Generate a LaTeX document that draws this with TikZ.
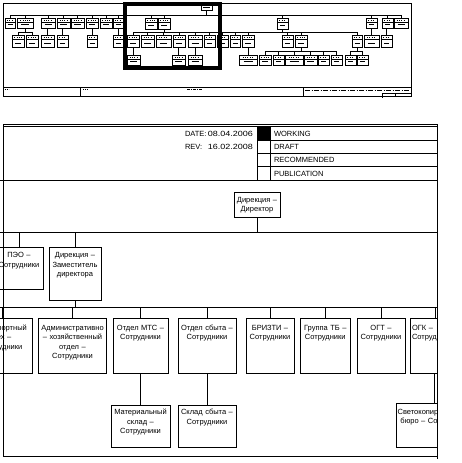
\documentclass[tikz,border=0pt]{standalone}
\usepackage{fontspec}
\setmainfont{Liberation Sans}
\usepackage{graphicx}
\newcommand\orgbox[7]{%
  \node[obox, minimum width=#4pt, minimum height=#5pt] (#1) at (#2,#3) {};
  \node[otxt] (#1t) at ([yshift=-#7pt]#1.north) {#6};
}
\newcommand\thumbbox[5]{%
  \node[tbox, minimum width=#4pt, minimum height=#5pt] (#1) at (#2,#3) {};
  \draw[line width=0.5pt] (#2,#3+0.38*#5) -- (#2+#4,#3+0.38*#5);
  \draw[line width=0.6pt, dash pattern=on 1pt off 1.3pt] (#2+0.2*#4,#3+0.19*#5) -- (#2+0.8*#4,#3+0.19*#5);
  \draw[line width=0.5pt] (#2+0.25*#4,#3+0.66*#5) -- (#2+0.75*#4,#3+0.66*#5);
}
\begin{document}
\begin{tikzpicture}[x=1pt,y=-1pt,
  every node/.style={inner sep=0pt, outer sep=0pt},
  ln/.style={line width=0.8pt},
  tln/.style={line width=0.7pt},
  obox/.style={draw, line width=0.8pt, anchor=north west},
  otxt/.style={font=\fontsize{7.5}{9.5}\selectfont, text width=110pt, align=center, anchor=base},
  htxt/.style={font=\fontsize{7.5}{9}\selectfont},
  tbox/.style={draw, line width=0.7pt, anchor=north west},
]
\useasboundingbox (0,0) rectangle (462,463);

% ================= THUMBNAIL =================
\draw[line width=0.9pt] (3,3) rectangle (411,96);
\draw[tln] (3,87) -- (411,87);
\draw[tln] (80,87) -- (80,96);
\draw[tln] (303,87) -- (303,96);
\draw[line width=0.6pt, dash pattern=on 1.2pt off 0.8pt] (4.5,89.5) -- (8.5,89.5);
\draw[line width=0.6pt, dash pattern=on 0.8pt off 1pt] (83,89.5) -- (87,89.5);
\draw[line width=0.6pt, dash pattern=on 3pt off 1pt on 1pt off 1pt] (187,89.5) -- (203,89.5);
\draw[line width=0.6pt, dash pattern=on 5pt off 1.5pt on 1pt off 1.5pt] (305,89.8) -- (410,89.8);
\draw[line width=0.6pt] (382,93) -- (411,93);
\draw[line width=0.6pt] (382,93) -- (382,97.5);
\draw[line width=0.6pt] (395,93) -- (395,96);

% director (thumb)
\node[tbox, minimum width=11pt, minimum height=5pt] (tdir) at (201,5) {};
\draw[line width=0.5pt] (203,7.5) -- (210,7.5);

% level 2 (thumb)
\thumbbox{qa}{5}{18}{10}{10}
\thumbbox{qb}{17}{18}{16}{10}
\thumbbox{qc}{41}{18}{14}{10}
\thumbbox{qd}{57}{18}{13}{10}
\thumbbox{qe}{71}{18}{13}{10}
\thumbbox{qf}{86}{18}{12}{10}
\thumbbox{qg}{100}{18}{12}{10}
\thumbbox{qh}{113}{18}{10}{10}
\thumbbox{qi}{145}{18}{12}{11}
\thumbbox{qj}{158}{18}{12}{11}
\thumbbox{qk}{277}{18}{11}{11}
\thumbbox{ql}{366}{18}{11}{10}
\thumbbox{qm}{382}{18}{11}{10}
\thumbbox{qn}{394}{18}{14}{10}

\coordinate (tb1l) at (10,15);
\coordinate (tb1r) at (401,15);
\draw[tln] (tb1l) -- (tb1r);
\draw[tln] (tdir.south) -- (tdir.south |- tb1l);
\foreach \n in {qa,qb,qc,qd,qe,qf,qg,qh,qi,qj,qk,ql,qm,qn}
  \draw[tln] (\n.north) -- (\n.north |- tb1l);

% level 3 (thumb), left group
\thumbbox{qba}{12}{35}{12}{12}
\thumbbox{qbb}{26}{35}{12}{12}
\coordinate (qsl) at (18,32);
\coordinate (qsr) at (32,32);
\draw[tln] (qsl) -- (qsr);
\draw[tln] (qb.south) -- (qb.south |- qsl);
\draw[tln] (qba.north) -- (qba.north |- qsl);
\draw[tln] (qbb.north) -- (qbb.north |- qsl);
\thumbbox{qca}{41}{35}{13}{12}
\thumbbox{qda}{57}{35}{11}{12}
\thumbbox{qfa}{87}{35}{10}{12}
\thumbbox{qha}{113}{35}{10}{12}
\draw[tln] (qca.north) -- (qca.north |- qc.south);
\draw[tln] (qda.north) -- (qda.north |- qd.south);
\draw[tln] (qfa.north) -- (qfa.north |- qf.south);
\draw[tln] (qha.north) -- (qha.north |- qh.south);

% level 3 (thumb), main bar
\thumbbox{u1}{127}{35}{12}{12}
\thumbbox{u2}{141}{35}{13}{12}
\thumbbox{u3}{156}{35}{15}{12}
\thumbbox{u4}{173}{35}{12}{12}
\thumbbox{u5}{188}{35}{14}{12}
\thumbbox{u6}{204}{35}{11}{12}
\thumbbox{u7}{217}{35}{11}{12}
\thumbbox{u8}{230}{35}{10}{12}
\thumbbox{u9}{242}{35}{12}{12}
\thumbbox{u10}{282}{35}{11}{12}
\thumbbox{u11}{295}{35}{12}{12}
\thumbbox{u12}{352}{35}{10}{12}
\thumbbox{u13}{364}{35}{15}{12}
\thumbbox{u14}{381}{35}{11}{12}
\coordinate (q2l) at (133,32);
\coordinate (q2r) at (357,32);
\draw[tln] (q2l) -- (q2r);
\draw[tln] (qj.south) -- (qj.south |- q2l);
\draw[tln] (qk.south) -- (qk.south |- q2l);
\foreach \n in {u1,u2,u3,u4,u5,u6,u7,u8,u9,u10,u11,u12}
  \draw[tln] (\n.north) -- (\n.north |- q2l);
\draw[tln] (u13.north) -- (u13.north |- ql.south);
\draw[tln] (u14.north) -- (u14.north |- qm.south);

% level 4 (thumb)
\thumbbox{v1}{127}{55}{13}{10}
\thumbbox{v2}{172}{55}{13}{10}
\thumbbox{v3}{188}{55}{14}{10}
\thumbbox{v4}{239}{55}{18}{10}
\draw[tln] (v1.north) -- (v1.north |- u1.south);
\draw[tln] (v2.north) -- (v2.north |- u4.south);
\draw[tln] (v3.north) -- (v3.north |- u5.south);
\draw[tln] (v4.north) -- (v4.north |- u9.south);
\thumbbox{w1}{259}{55}{12}{10}
\thumbbox{w2}{273}{55}{11}{10}
\thumbbox{w3}{285}{55}{18}{10}
\thumbbox{w4}{304}{55}{13}{10}
\thumbbox{w5}{318}{55}{11}{10}
\thumbbox{w6}{331}{55}{11}{10}
\coordinate (q3l) at (265,51);
\coordinate (q3r) at (336.5,51);
\draw[tln] (q3l) -- (q3r);
\draw[tln] (u11.south) -- (u11.south |- q3l);
\foreach \n in {w1,w2,w3,w4,w5,w6}
  \draw[tln] (\n.north) -- (\n.north |- q3l);
\thumbbox{w7}{345}{55}{11}{10}
\thumbbox{w8}{357}{55}{11}{10}
\coordinate (q4l) at (350.5,51);
\coordinate (q4r) at (362.5,51);
\draw[tln] (q4l) -- (q4r);
\draw[tln] (u12.south) -- (u12.south |- q4l);
\draw[tln] (w7.north) -- (w7.north |- q4l);
\draw[tln] (w8.north) -- (w8.north |- q4l);

% view rectangle
\draw[line width=4pt] (124.5,4) rectangle (220,67.5);

% ================= ZOOMED VIEW =================
\begin{scope}
\clip (0,120) rectangle (437.5,463);
% header
\coordinate (hl) at (0,180);
\coordinate (hr) at (437.5,180);
\draw[ln] (hl) -- (hr);
\fill (257,126.8) rectangle (270.5,140.3);
\draw[ln] (257,126.8) -- (257,180);
\draw[ln] (270.5,126.8) -- (270.5,180);
\foreach \yy in {140.3,153.5,166.8}
  \draw[ln] (257,\yy) -- (437.5,\yy);
\node[htxt, anchor=base west] (datel) at (185,136.3) {DATE:};
\node[htxt, anchor=base east] (datev) at (253,136.3) {\scalebox{1.2}[1]{08.04.2006}};
\node[htxt, anchor=base west] (revl) at (185,149.6) {REV:};
\node[htxt, anchor=base east] (revv) at (253,149.6) {\scalebox{1.2}[1]{16.02.2008}};
\node[htxt, anchor=base west] (st1) at (274,136.3) {WORKING};
\node[htxt, anchor=base west] (st2) at (274,149.6) {DRAFT};
\node[htxt, anchor=base west] (st3) at (274,162.8) {RECOMMENDED};
\node[htxt, anchor=base west] (st4) at (274,176.1) {PUBLICATION};

% org chart
\orgbox{dir}{234}{192}{46}{25}{Дирекция –\\Директор}{10}
\orgbox{peo}{-5}{247}{48}{42}{ПЭО –\\Сотрудники}{10.5}
\orgbox{zam}{49}{247}{52}{53}{Дирекция –\\Заместитель\\директора}{10.5}

\orgbox{tra}{-28}{318.5}{60}{55}{Транспортный\\цех –\\Сотрудники}{11.5}
\orgbox{aho}{38.3}{318.5}{68.4}{55}{Административно\\– хозяйственный\\отдел –\\Сотрудники}{11.5}
\orgbox{mts}{113}{318.5}{55}{55}{Отдел МТС –\\Сотрудники}{11.5}
\orgbox{sbyt}{178}{318.5}{58}{55}{Отдел сбыта –\\Сотрудники}{11.5}
\orgbox{briz}{246}{318.5}{48}{55}{БРИЗТИ –\\Сотрудники}{11.5}
\orgbox{tb}{300}{318.5}{50.5}{55}{Группа ТБ –\\Сотрудники}{11.5}
\orgbox{ogt}{357}{318.5}{48}{55}{ОГТ –\\Сотрудники}{11.5}
\node[obox, minimum width=49pt, minimum height=55pt] (ogk) at (410.5,318.5) {};
\node[otxt, anchor=base west, align=left, text width=60pt] (ogkt) at (412,330) {ОГК –\\Сотрудники};

\orgbox{mat}{111}{405}{59}{42.5}{Материальный\\склад –\\Сотрудники}{9.5}
\orgbox{skl}{178}{405}{58}{42.5}{Склад сбыта –\\Сотрудники}{9.5}
\orgbox{svet}{396}{403.5}{77}{44}{Светокопировальное\\бюро – Сотрудники}{10.5}

\coordinate (b1l) at (0,232);
\coordinate (b1r) at (437.5,232);
\coordinate (b3l) at (0,307);
\coordinate (b3r) at (437.5,307);
\draw[ln] (b1l) -- (b1r);
\draw[ln] (b3l) -- (b3r);
\draw[ln] (dir.south) -- (dir.south |- b1l);
\foreach \n in {peo,zam}
  \draw[ln] (\n.north) -- (\n.north |- b1l);
\draw[ln] (zam.south) -- (zam.south |- b3l);
\foreach \n in {tra,aho,mts,sbyt,briz,tb,ogt,ogk}
  \draw[ln] (\n.north) -- (\n.north |- b3l);
\draw[ln] (mat.north) -- (mat.north |- mts.south);
\draw[ln] (skl.north) -- (skl.north |- sbyt.south);
\draw[ln] (svet.north) -- (svet.north |- ogk.south);
\end{scope}

% frame of the view
\draw[line width=0.8pt] (3,124.6) -- (437.5,124.6);
\draw[line width=0.8pt] (3,126.8) -- (437.5,126.8);
\draw[ln] (3,124.6) -- (3,456);
\draw[ln] (3,456) -- (437.5,456);
\draw[ln] (437.5,124.6) -- (437.5,459);
\end{tikzpicture}
\end{document}
